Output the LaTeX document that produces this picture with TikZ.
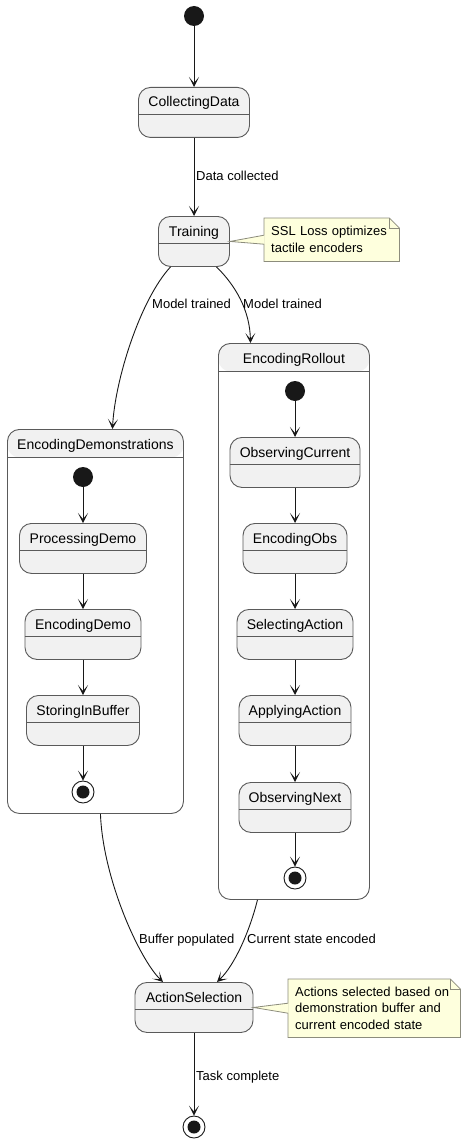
\documentclass[tikz,border=0pt]{standalone}
\usepackage{fontspec}
\setmainfont{Liberation Sans}
\usetikzlibrary{arrows.meta,backgrounds}
\definecolor{stateFill}{HTML}{F1F1F1}
\definecolor{stateLine}{HTML}{5A5A5A}
\definecolor{arrowLine}{HTML}{181818}
\definecolor{noteFill}{HTML}{FEFFDD}
\definecolor{noteLine}{HTML}{8C8C7C}
\begin{document}
\begin{tikzpicture}[x=1pt,y=-1pt,
		statebox/.style={draw=stateLine,fill=stateFill,line width=0.9pt,rounded corners=12pt,minimum height=50pt,inner sep=0pt,anchor=north},
		compbox/.style={draw=stateLine,fill=white,line width=0.9pt,rounded corners=12pt,inner sep=0pt,anchor=north west,
			path picture={\fill[stateFill] (path picture bounding box.north west) rectangle ([yshift=-28pt]path picture bounding box.north east);}},
		titletext/.style={font=\fontsize{14pt}{16pt}\selectfont,inner sep=0pt,anchor=base},
		edgetext/.style={font=\fontsize{13pt}{16pt}\selectfont,inner sep=0pt,anchor=base west},
		notetext/.style={font=\fontsize{13pt}{16.8pt}\selectfont,align=left,anchor=north west,inner xsep=7pt,inner ysep=0pt},
		notebody/.style={draw=noteLine,fill=noteFill,line width=0.8pt},
		startdot/.style={circle,fill=arrowLine,minimum size=20pt,inner sep=0pt},
		enddot/.style={circle,draw=arrowLine,line width=0.9pt,fill=white,minimum size=22pt,inner sep=0pt,
			path picture={\fill[arrowLine] (path picture bounding box.center) circle (6.5pt);}},
		trans/.style={draw=arrowLine,line width=0.9pt,-{Stealth[length=10pt,width=10pt,inset=6pt]}}
	]
			\def\StateBox#1#2#3#4#5{%
				\node[statebox,minimum width=#4pt] (#1) at (#2,#3) {};
				\draw[stateLine,line width=0.9pt] ([yshift=-27pt]#1.north west) -- ([yshift=-27pt]#1.north east);
				\node[titletext] (#1-title) at ([yshift=-20pt]#1.north) {#5};
			}
			\def\CompBox#1#2#3#4#5#6{%
				\node[compbox,minimum width=#4pt,minimum height=#5pt] (#1) at (#2,#3) {};
				\draw[stateLine,line width=0.9pt] ([yshift=-28pt]#1.north west) -- ([yshift=-28pt]#1.north east);
				\node[titletext] (#1-title) at ([yshift=-20pt]#1.north) {#6};
			}
			\useasboundingbox (0,0) rectangle (466,1142);
			% top level
			\node[startdot] (s0) at (194,16) {};
			\StateBox{cd}{194}{87}{111}{CollectingData}
			\StateBox{tr}{194}{216}{71}{Training}
			\draw[trans] (s0) -- (cd);
			\draw[trans] (cd) -- (tr);
			\node[edgetext] (lblData) at (196,180.5) {Data collected};
			% composite states
			\CompBox{ed}{7}{429}{176}{384}{EncodingDemonstrations}
			\CompBox{er}{218}{343}{151}{556}{EncodingRollout}
			\draw[trans] ([xshift=-23.5pt]tr.south) .. controls (140,300) and (115,380) .. ([xshift=17pt]ed.north);
			\draw[trans] ([xshift=22.5pt]tr.south) .. controls (235,285) and (250,310) .. ([xshift=-43.5pt]er.north);
			\node[edgetext] (lblTrainL) at (152,308.5) {Model trained};
			\node[edgetext] (lblTrainR) at (243,308.5) {Model trained};
			% demonstrations
			\node[startdot] (sd) at (83,477) {};
			\StateBox{pd}{83}{523}{127}{ProcessingDemo}
			\StateBox{edm}{83}{609}{116}{EncodingDemo}
			\StateBox{sb}{83}{695}{113}{StoringInBuffer}
			\node[enddot] (ee) at (83,792) {};
			\foreach \a/\b in {sd/pd,pd/edm,edm/sb,sb/ee}
				\draw[trans] (\a) -- (\b);
			% rollout
			\node[startdot] (sr) at (295,391) {};
			\StateBox{oc}{295}{437}{130}{ObservingCurrent}
			\StateBox{eo}{295}{523}{104}{EncodingObs}
			\StateBox{sa}{295}{609}{116}{SelectingAction}
			\StateBox{aa}{295}{695}{112}{ApplyingAction}
			\StateBox{on}{295}{782}{112}{ObservingNext}
			\node[enddot] (re) at (295,878) {};
			\foreach \a/\b in {sr/oc,oc/eo,eo/sa,sa/aa,aa/on,on/re}
				\draw[trans] (\a) -- (\b);
			% action selection
			\StateBox{as}{194}{982}{118}{ActionSelection}
			\node[enddot] (sEnd) at (194,1127) {};
			\draw[trans] ([xshift=5pt]ed.south) .. controls (103,880) and (140,960) .. ([xshift=-31pt]as.north);
			\draw[trans] ([xshift=-36.5pt]er.south) .. controls (250,930) and (235,965) .. ([xshift=23pt]as.north);
			\node[edgetext] (lblBuffer) at (139,943.5) {Buffer populated};
			\node[edgetext] (lblState) at (247,943.5) {Current state encoded};
			\draw[trans] (as) -- (sEnd);
			\node[edgetext] (lblTask) at (196,1080.5) {Task complete};
			% notes
			\node[notetext,text width=121pt,minimum height=43pt] (note1) at (264,218) {SSL Loss optimizes\\tactile encoders};
			\node[notetext,text width=158pt,minimum height=58pt] (note2) at (288,979) {Actions selected based on\\demonstration buffer and\\current encoded state};
			\begin{scope}[on background layer]
				\foreach \n in {note1,note2}{
					\draw[notebody] (\n.north west) -- ([xshift=-10pt]\n.north east) -- ([yshift=-10pt]\n.north east) -- (\n.south east) -- (\n.south west) -- cycle;
					\draw[notebody,fill=none] ([xshift=-10pt]\n.north east) |- ([yshift=-10pt]\n.north east);
				}
			\end{scope}
			\fill[noteFill] ([xshift=0.6pt,yshift=4.5pt]note1.west) -- (tr.east) -- ([xshift=0.6pt,yshift=-4.5pt]note1.west) -- cycle;
			\draw[noteLine,line width=0.8pt] ([yshift=4.5pt]note1.west) -- (tr.east) -- ([yshift=-4.5pt]note1.west);
			\fill[noteFill] ([xshift=0.6pt,yshift=5pt]note2.west) -- (as.east) -- ([xshift=0.6pt,yshift=-5pt]note2.west) -- cycle;
			\draw[noteLine,line width=0.8pt] ([yshift=5pt]note2.west) -- (as.east) -- ([yshift=-5pt]note2.west);
		\end{tikzpicture}
\end{document}
